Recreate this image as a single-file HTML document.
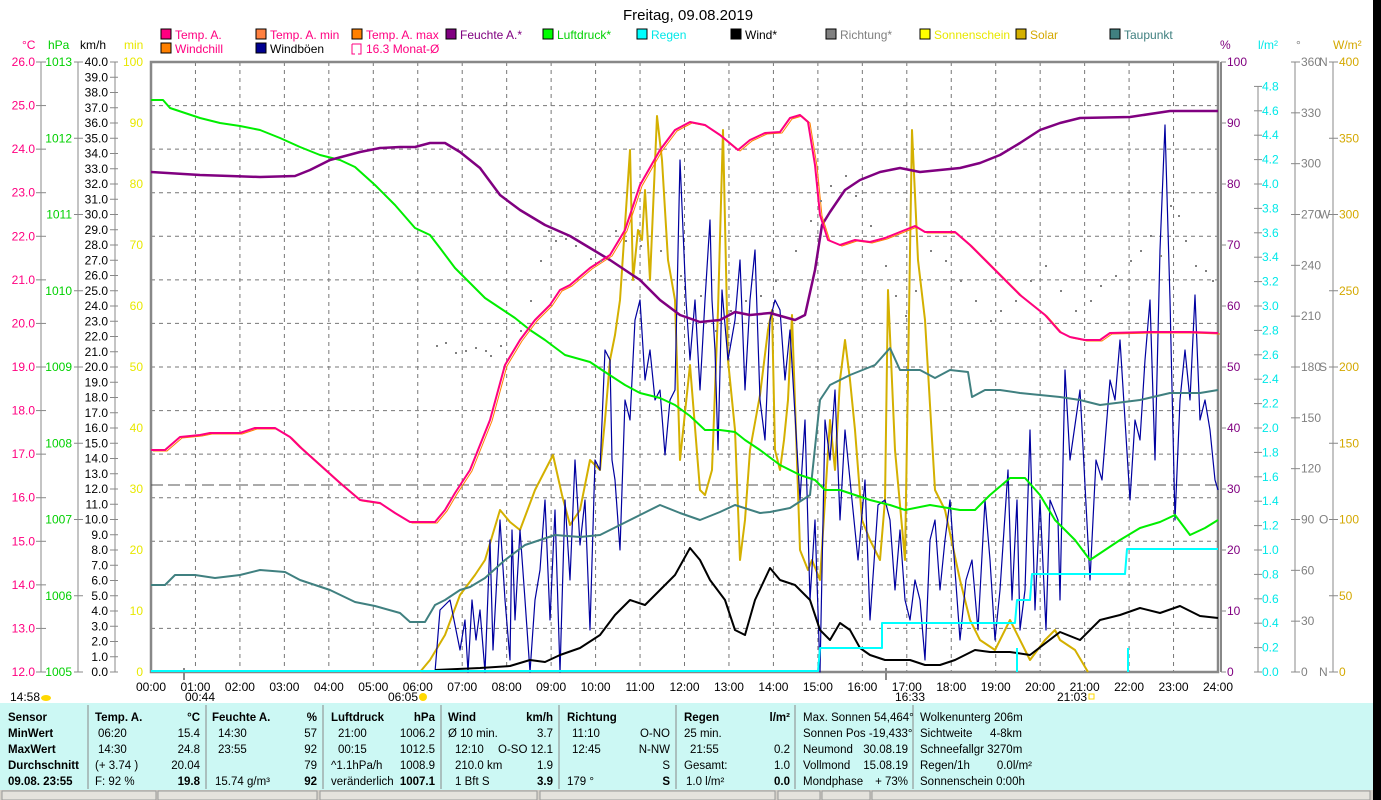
<!DOCTYPE html>
<html><head><meta charset="utf-8"><style>
body{margin:0;background:#fff;width:1381px;height:800px;overflow:hidden;font-family:"Liberation Sans",sans-serif}
svg{position:absolute;left:0;top:0}
text{font-family:"Liberation Sans",sans-serif}
</style></head><body>
<svg id="s" width="1381" height="800" xmlns="http://www.w3.org/2000/svg" font-size="12">
<rect x="1373" y="0" width="8" height="800" fill="#000"/>
<text x="688" y="20" text-anchor="middle" font-size="15" fill="#000">Freitag, 09.08.2019</text>
<g id="grid"></g>
<g id="axes"></g>
<g id="legend" font-size="12"></g>
<line x1="151" y1="485" x2="1218" y2="485" stroke="#555" stroke-dasharray="12,5"/>
<g fill="none" stroke-linejoin="round">
<polyline id="dir" stroke="none"/>
<polyline stroke="#d4b000" stroke-width="2" points="420,672 430,660 445,635 460,595 475,575 485,560 500,510 510,522 520,530 535,490 553,455 562,495 570,525 580,510 590,460 600,470 605,420 610,360 615,335 620,300 630,150 633,280 638,230 642,240 645,190 650,280 657,116 662,160 668,260 675,300 680,460 690,365 700,490 705,495 712,470 718,310 723,130 728,360 735,430 740,560 745,520 750,450 760,395 768,330 772,310 775,450 780,470 784,440 788,400 792,315 800,550 808,570 812,560 820,580 830,420 835,470 840,380 845,340 850,380 855,430 862,520 870,540 880,560 885,500 888,290 895,450 905,560 912,130 918,260 925,320 935,490 945,510 960,580 970,620 980,640 995,650 1010,620 1030,660 1045,640 1055,630 1060,640 1075,650 1088,672"/>
<polyline stroke="#0000a0" stroke-width="1.2" points="435,672 440,610 450,600 460,650 465,620 468,672 472,600 476,640 480,610 485,672 490,540 493,650 500,520 505,600 510,660 512,530 515,620 520,530 525,600 530,672 535,600 540,570 545,500 550,620 555,510 560,672 565,500 570,580 575,460 580,545 585,500 590,630 595,460 600,470 605,350 610,360 612,460 615,480 620,550 625,400 630,420 635,320 640,300 645,380 650,350 655,400 660,390 665,455 670,400 675,390 680,160 686,300 690,360 695,300 700,390 705,300 710,220 712,300 715,350 718,450 722,290 728,360 735,320 740,260 745,390 750,300 755,250 760,400 765,440 770,320 775,300 780,310 785,380 790,330 800,500 805,420 810,600 815,520 820,672 825,420 830,460 835,390 840,520 845,430 852,500 858,560 865,480 870,620 878,505 885,500 890,520 895,590 900,530 905,600 910,620 915,580 920,600 925,660 930,540 935,520 940,590 945,540 950,500 960,640 966,580 972,560 978,630 985,500 990,560 995,640 1000,590 1008,470 1012,600 1017,500 1020,630 1025,590 1030,430 1035,610 1040,500 1046,630 1050,500 1058,520 1060,600 1065,370 1070,460 1080,390 1090,580 1096,460 1102,480 1110,380 1115,400 1120,340 1130,500 1135,420 1140,440 1145,360 1150,300 1155,460 1160,250 1165,125 1170,300 1175,520 1180,400 1185,350 1190,400 1195,295 1200,420 1205,400 1210,430 1215,480 1218,490"/>
<polyline stroke="#408080" stroke-width="2" points="151,585 165,585 175,575 195,575 215,578 240,575 260,570 285,572 300,580 330,590 355,602 375,606 400,613 410,622 425,622 435,605 445,600 460,590 470,587 485,578 505,560 525,545 555,535 580,537 600,535 620,525 640,515 660,505 680,513 700,520 720,512 735,505 760,513 770,512 790,508 810,495 820,400 830,385 850,375 875,365 890,348 900,370 920,370 935,378 950,370 968,372 972,397 985,390 1000,390 1020,393 1060,397 1080,400 1100,405 1140,400 1170,393 1200,393 1218,390"/>
<polyline stroke="#00ee00" stroke-width="2" points="151,100 163,100 170,108 200,118 220,123 240,126 260,130 280,138 300,147 320,155 340,160 355,167 375,185 395,205 415,228 430,235 440,248 455,268 470,283 485,298 500,308 515,318 530,330 545,340 565,355 590,362 605,372 625,385 640,393 660,398 675,405 690,416 705,430 720,430 735,432 745,440 760,450 780,465 800,475 815,480 825,490 840,490 855,495 870,500 890,505 905,510 930,505 960,510 975,510 990,495 1010,478 1025,478 1040,495 1055,520 1075,540 1090,560 1105,550 1120,540 1140,528 1160,522 1175,515 1190,535 1205,528 1218,520"/>
<polyline stroke="#800080" stroke-width="2.5" points="151,172 200,175 230,176 260,177 295,176 310,170 330,160 360,152 380,148 400,147 415,147 430,143 445,143 460,152 480,168 500,195 520,210 545,225 570,236 590,248 610,260 625,270 640,280 660,300 680,315 700,322 720,320 735,312 750,315 770,313 795,320 805,315 815,270 822,225 830,212 845,190 860,180 880,172 900,168 920,172 940,170 960,168 980,163 1000,155 1020,143 1040,130 1060,123 1080,118 1130,117 1170,111 1218,111"/>
<polyline id="tmax" stroke="#ff8000" stroke-width="1" transform="translate(2,1)" points=""/>
<polyline id="temp" stroke="#ff0080" stroke-width="2" points="151,450 165,450 180,437 200,435 210,433 240,433 255,428 275,428 290,437 300,447 320,465 340,483 360,500 380,503 395,513 410,522 435,522 445,510 455,493 470,470 490,420 505,365 520,340 535,320 550,305 560,290 570,285 590,268 610,255 625,230 640,185 660,150 675,130 690,122 705,125 720,135 738,150 750,140 765,133 780,132 790,118 800,115 808,122 815,165 820,215 828,240 840,245 855,240 870,242 885,238 900,232 915,226 925,232 955,232 970,245 985,260 1000,275 1020,295 1045,315 1060,332 1070,337 1085,340 1100,340 1110,333 1150,332 1190,332 1218,333"/>
<polyline stroke="#000" stroke-width="2" points="435,670 480,668 510,666 530,660 545,662 560,655 580,648 600,635 615,615 630,600 645,605 660,590 675,575 690,548 700,560 710,580 725,600 735,630 745,635 755,600 770,568 780,580 795,585 810,600 820,630 830,640 840,623 850,630 860,648 870,655 885,660 910,660 925,665 940,665 955,660 975,650 990,652 1010,652 1030,655 1060,632 1080,640 1100,620 1120,615 1140,608 1160,613 1180,606 1200,616 1218,618"/>
<polyline stroke="#00ffff" stroke-width="2" points="151,671 818,671 820,648 882,648 882,623 1015,623 1017,600 1030,600 1032,574 1125,574 1127,549 1218,549"/>
<line x1="1017" y1="672" x2="1017" y2="648" stroke="#00ffff" stroke-width="2"/>
<line x1="1128" y1="672" x2="1128" y2="648" stroke="#00ffff" stroke-width="2"/>
</g>
<g id="dots" fill="#808080"></g>
<rect x="0" y="703" width="1373" height="87" fill="#ccf8f4"/>
<rect x="0" y="790" width="1373" height="10" fill="#d4d0c8"/>
<g id="tbl" font-size="11.5"></g>
<g font-size="12" fill="#000">
<text x="10" y="701">14:58</text><ellipse cx="46" cy="698" rx="5" ry="3" fill="#ffd800"/>
<text x="185" y="701">00:44</text>
<text x="388" y="701">06:05</text><circle cx="423" cy="697" r="4" fill="#ffd800"/>
<text x="895" y="701">16:33</text>
<text x="1057" y="701">21:03</text><rect x="1089" y="694" width="5" height="5" fill="none" stroke="#ffd800"/>
</g>
<script>
var s=document.getElementById('s'),NS='http://www.w3.org/2000/svg';
function el(p,t,a,txt){var e=document.createElementNS(NS,t);for(var k in a)e.setAttribute(k,a[k]);if(txt!=null)e.textContent=txt;document.getElementById(p).appendChild(e);return e;}
document.getElementById('tmax').setAttribute('points',document.getElementById('temp').getAttribute('points'));
var X0=151,X1=1218,Y0=672,Y1=62;
// grid
for(var h=1;h<24;h++){var x=X0+h*(X1-X0)/24;el('grid','line',{x1:x,y1:Y1,x2:x,y2:Y0,stroke:'#777','stroke-dasharray':'4,4'});}
for(var i=1;i<14;i++){var y=Y0-i*610/14;el('grid','line',{x1:X0,y1:y,x2:X1,y2:y,stroke:'#777','stroke-dasharray':'4,4'});}
el('grid','rect',{x:X0,y:Y1,width:X1-X0,height:Y0-Y1,fill:'none',stroke:'#888','stroke-width':2.5});
el('grid','line',{x1:1221,y1:Y1,x2:1221,y2:Y0,stroke:'#888','stroke-width':2});
// time labels
for(var h=0;h<=24;h++){var x=X0+h*(X1-X0)/24;el('axes','text',{x:x,y:691,'text-anchor':'middle'},(h<10?'0':'')+h+':00');}
function axis(ax,col,vals,fmt,lx,anchor,tk){el('axes','line',{x1:ax,y1:Y1,x2:ax,y2:Y0,stroke:'#888'});}
// °C
el('axes','line',{x1:41,y1:Y1,x2:41,y2:Y0,stroke:'#888'});
for(var t=12;t<=26;t++){var y=Y0-(t-12)*610/14;el('axes','line',{x1:36,y1:y,x2:46,y2:y,stroke:'#888'});el('axes','text',{x:35,y:y+4,'text-anchor':'end',fill:'#ff0080'},t.toFixed(1));}
el('axes','line',{x1:78,y1:Y1,x2:78,y2:Y0,stroke:'#888'});
for(var p=1005;p<=1013;p++){var y=Y0-(p-1005)*610/8;el('axes','line',{x1:74,y1:y,x2:83,y2:y,stroke:'#888'});el('axes','text',{x:72,y:y+4,'text-anchor':'end',fill:'#00d000'},p);}
el('axes','line',{x1:115,y1:Y1,x2:115,y2:Y0,stroke:'#888'});
for(var k=0;k<=40;k++){var y=Y0-k*610/40;el('axes','line',{x1:110,y1:y,x2:118,y2:y,stroke:'#888'});el('axes','text',{x:108,y:y+4,'text-anchor':'end',fill:'#000'},k.toFixed(1));}
for(var m=0;m<=100;m+=10){var y=Y0-m*6.1;el('axes','text',{x:143,y:y+4,'text-anchor':'end',fill:'#e8e800'},m);
 el('axes','line',{x1:1221,y1:y,x2:1226,y2:y,stroke:'#888'});el('axes','text',{x:1227,y:y+4,fill:'#800080'},m);}
el('axes','line',{x1:1258,y1:Y1+24,x2:1258,y2:Y0,stroke:'#888'});
for(var r=0;r<=24;r++){var y=Y0-r*24.4;el('axes','line',{x1:1254,y1:y,x2:1262,y2:y,stroke:'#888'});el('axes','text',{x:1262,y:y+4,fill:'#00e8e8'},(r*0.2).toFixed(1));}
el('axes','line',{x1:1295,y1:Y1,x2:1295,y2:Y0,stroke:'#888'});
var cmp={0:'N',90:'O',180:'S',270:'W',360:'N'};
for(var d=0;d<=360;d+=30){var y=Y0-d*610/360;el('axes','line',{x1:1291,y1:y,x2:1300,y2:y,stroke:'#888'});el('axes','text',{x:1301,y:y+4,fill:'#808080'},d);if(cmp[d]!=null)el('axes','text',{x:1319,y:y+4,fill:'#808080'},cmp[d]);}
el('axes','line',{x1:1333,y1:Y1,x2:1333,y2:Y0,stroke:'#888'});
for(var w=0;w<=400;w+=50){var y=Y0-w*610/400;el('axes','line',{x1:1329,y1:y,x2:1338,y2:y,stroke:'#888'});el('axes','text',{x:1339,y:y+4,fill:'#d4a800'},w);}
// axis unit labels
[['°C',22,'#ff0080'],['hPa',48,'#00d000'],['km/h',80,'#000'],['min',124,'#e8e800'],['%',1220,'#800080'],['l/m²',1258,'#00e8e8'],['°',1296,'#808080'],['W/m²',1333,'#d4a800']].forEach(function(a){el('axes','text',{x:a[1],y:49,fill:a[2]},a[0]);});
el('axes','line',{x1:184,y1:668,x2:184,y2:680,stroke:'#888','stroke-width':2});
el('axes','line',{x1:886,y1:668,x2:886,y2:680,stroke:'#888','stroke-width':2});
// legend
var L=[[161,38,'#ff0080','Temp. A.','#ff0080'],[256,38,'#ff8040','Temp. A. min','#ff0080'],[352,38,'#ff8000','Temp. A. max','#ff0080'],[446,38,'#800080','Feuchte A.*','#800080'],[543,38,'#00ff00','Luftdruck*','#00d000'],[637,38,'#00ffff','Regen','#00e8e8'],[731,38,'#000','Wind*','#000'],[826,38,'#808080','Richtung*','#808080'],[920,38,'#ffff00','Sonnenschein','#e8e800'],[1016,38,'#d4b000','Solar','#d4a800'],[1110,38,'#408080','Taupunkt','#408080'],[161,52,'#ff8000','Windchill','#ff0080'],[256,52,'#000090','Windböen','#000']];
L.forEach(function(a){el('legend','rect',{x:a[0],y:a[1]-9,width:10,height:10,fill:a[2],stroke:'#000'});el('legend','text',{x:a[0]+14,y:a[1]+1,fill:a[4]},a[3]);});
el('legend','path',{d:'M352 44 h9 v10 h-3 M352 44 v10 h3',fill:'none',stroke:'#ff0080'});
el('legend','text',{x:366,y:53,fill:'#ff0080'},'16.3 Monat-Ø');
// direction dots
var D=[[436,345],[445,342],[455,352],[465,350],[475,347],[485,350],[490,355],[500,345],[520,330],[530,300],[540,260],[548,230],[555,240],[565,238],[575,245],[590,258],[600,260],[615,230],[625,240],[640,245],[660,250],[680,275],[700,295],[715,330],[730,310],[745,300],[760,295],[775,280],[795,250],[810,220],[820,200],[830,185],[845,175],[855,195],[870,225],[885,265],[895,295],[905,315],[915,290],[930,250],[945,260],[960,280],[975,300],[990,320],[1000,310],[1015,300],[1030,280],[1045,265],[1060,290],[1075,310],[1090,300],[1100,285],[1115,275],[1130,260],[1140,250],[1150,235],[1160,255],[1170,205],[1178,215],[1185,240],[1195,265],[1205,270],[1212,280]];
D.forEach(function(p){el('dots','rect',{x:p[0],y:p[1],width:2,height:2});});
// table
[88,206,323,441,559,676,795,913].forEach(function(x){el('tbl','line',{x1:x,y1:705,x2:x,y2:789,stroke:'#888'});});
var rows=[717,733,749,765,781];
function T(x,r,t,b,anc){el('tbl','text',{x:x,y:rows[r]+4,'font-weight':b?'bold':'normal','text-anchor':anc||'start'},t);}
['Sensor','MinWert','MaxWert','Durchschnitt','09.08. 23:55'].forEach(function(t,i){T(8,i,t,1);});
T(95,0,'Temp. A.',1);T(200,0,'°C',1,'end');T(98,1,'06:20');T(200,1,'15.4',0,'end');T(98,2,'14:30');T(200,2,'24.8',0,'end');T(95,3,'(+ 3.74 )');T(200,3,'20.04',0,'end');T(95,4,'F: 92 %');T(200,4,'19.8',1,'end');
T(212,0,'Feuchte A.',1);T(317,0,'%',1,'end');T(218,1,'14:30');T(317,1,'57',0,'end');T(218,2,'23:55');T(317,2,'92',0,'end');T(317,3,'79',0,'end');T(215,4,'15.74 g/m³');T(317,4,'92',1,'end');
T(331,0,'Luftdruck',1);T(435,0,'hPa',1,'end');T(338,1,'21:00');T(435,1,'1006.2',0,'end');T(338,2,'00:15');T(435,2,'1012.5',0,'end');T(331,3,'^1.1hPa/h');T(435,3,'1008.9',0,'end');T(331,4,'veränderlich');T(435,4,'1007.1',1,'end');
T(448,0,'Wind',1);T(553,0,'km/h',1,'end');T(448,1,'Ø 10 min.');T(553,1,'3.7',0,'end');T(455,2,'12:10');T(553,2,'O-SO 12.1',0,'end');T(455,3,'210.0 km');T(553,3,'1.9',0,'end');T(455,4,'1 Bft S');T(553,4,'3.9',1,'end');
T(567,0,'Richtung',1);T(572,1,'11:10');T(670,1,'O-NO',0,'end');T(572,2,'12:45');T(670,2,'N-NW',0,'end');T(670,3,'S',0,'end');T(567,4,'179 °');T(670,4,'S',1,'end');
T(684,0,'Regen',1);T(790,0,'l/m²',1,'end');T(684,1,'25 min.');T(690,2,'21:55');T(790,2,'0.2',0,'end');T(684,3,'Gesamt:');T(790,3,'1.0',0,'end');T(686,4,'1.0 l/m²');T(790,4,'0.0',1,'end');
T(803,0,'Max. Sonnen 54,464°');T(803,1,'Sonnen Pos -19,433°');T(803,2,'Neumond');T(908,2,'30.08.19',0,'end');T(803,3,'Vollmond');T(908,3,'15.08.19',0,'end');T(803,4,'Mondphase');T(908,4,'+ 73%',0,'end');
T(920,0,'Wolkenunterg  206m');T(920,1,'Sichtweite');T(1022,1,'4-8km',0,'end');T(920,2,'Schneefallgr  3270m');T(920,3,'Regen/1h');T(1032,3,'0.0l/m²',0,'end');T(920,4,'Sonnenschein  0:00h');
[[2,156],[158,317],[320,537],[540,775],[778,820],[822,870],[872,1370]].forEach(function(b){el('tbl','rect',{x:b[0],y:791,width:b[1]-b[0],height:9,fill:'#e4e2dc',stroke:'#999'});});
</script>
</svg>
</body></html>
